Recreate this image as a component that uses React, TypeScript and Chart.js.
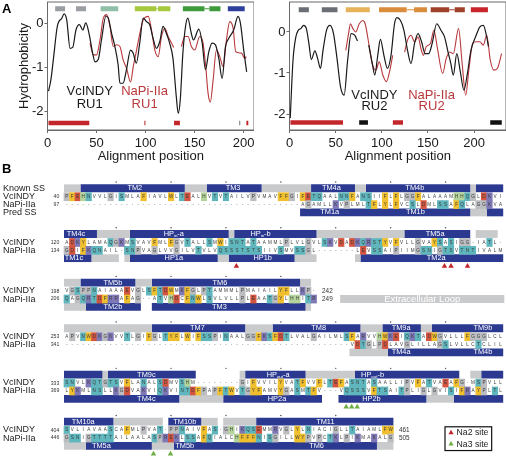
import React, { useEffect, useRef } from "react";
import { Chart, registerables } from "chart.js";
Chart.register(...registerables);

const FONT = '"Liberation Sans", Arial, sans-serif';
const BLACK = "#1a1a1a";
const RED = "#b8383c";
const BLUE = "#2b3990";
const GRAY = "#c9cacc";
const FRAME = "#6a6a6a";

type Pt = [number, number];
type Seg = [number, number, string];

// ---------- Panel A data (alignment position, hydrophobicity) ----------
const ru1Vc: Pt[] = [[1,-1.54],[3.4,-1.29],[6.1,-0.79],[10,-0.06],[14.6,0.13],[17,0.23],[19.6,0.09],[23,-0.56],[25.7,-0.54],[29,-0.14],[32.5,-0.02],[36,-0.14],[39,0.02],[42.6,-0.25],[46,-0.67],[48.4,-0.87],[51.8,-0.81],[55,-0.37],[59.6,0.18],[62,0.13],[65.3,-0.21],[68.7,-0.52],[72,-0.94],[73.8,-1.36],[77,-1.36],[80.5,-1.05],[84.6,-0.6],[87.3,-0.67],[90.6,-0.9],[94,-0.44],[97.5,0.13],[100.9,0.05],[104.2,-0.02],[107.6,-0.33],[111,-0.56],[114.4,-0.41],[117.8,-0.06],[121,-0.21],[124.5,-0.44],[127.9,-0.79],[131.3,-1.67],[133.3,-2.05],[135.3,-1.75],[138,-0.67],[140.7,-0.06],[143,0.13],[146.5,-0.21],[148.8,-0.37],[154.3,-0.12],[157.7,-0.44],[161,-1.05],[164.4,-0.64],[167.8,-0.44],[171.2,-0.48],[174.6,-0.79],[178,-1.25],[181.4,-0.52],[184.8,-0.33],[189.8,-0.14],[194.2,0.17],[196.6,0.02],[200,-0.6],[203,-1.1]];
const ru1Na: Pt[] = [[43.3,-0.44],[46.7,-0.71],[50,-0.71],[53.5,-0.37],[56.9,0.13],[60.3,0.21],[63.7,-0.06],[67,-0.52],[70.5,-0.48],[73.8,-0.52],[77.2,-0.83],[80.6,-1.02],[84.7,-1.33],[87.4,-0.98],[90.8,-0.6],[94.2,-0.21],[97.6,0.09],[102.7,0.17],[106,-0.14],[109.4,-0.6],[112.8,-0.75],[116.2,-0.29],[119.6,-0.1],[123,-0.29],[126.4,-0.44],[128.7,-0.54]];
const ru1NaB: Pt[] = [[136.5,-0.52],[139.9,-0.29],[143.3,-0.29],[146.7,-0.52],[150,-0.6],[155.2,-0.29],[158.6,-0.44],[161.3,-0.98],[163.7,-1.59],[166,-1.79],[168.8,-1.29],[172.2,-0.6],[175.6,-0.75],[179,-0.98],[182.4,-0.37],[185.8,0.05],[189.2,-0.1],[191.9,-0.64],[197.7,-0.67],[201,-0.79],[202.7,-0.75]];
const ru2Vc: Pt[] = [[0.8,-2.1],[3.8,-0.69],[6.9,-0.12],[9.5,0.04],[12.2,0.08],[15.3,0.16],[18.3,0.08],[21,-0.28],[23.7,-0.67],[27.5,-0.46],[30.5,-0.65],[33.6,-0.89],[36.3,-0.45],[40.1,0.04],[43.9,0.16],[47.7,-0.04],[51.5,-0.65],[55.3,-1.34],[59.2,-1.54],[63,-0.69],[66.8,-0.04],[70.6,-0.08],[73.7,-0.22]];
const ru2VcB: Pt[] = [[85.9,-0.32],[89.7,-0.77],[92.4,-1.05],[95.4,-0.61],[98.5,-0.18],[102.3,-0.57],[106.1,-0.89],[110,-0.57],[113.8,0.2],[116.4,0.35],[120.3,0.28],[124,0.04],[127.9,-0.45],[131.7,-0.77],[135.5,-0.28],[139.3,-0.04],[143.1,-0.24],[147,-0.53],[150.8,-0.53],[154.6,-0.28],[159.5,0.2],[164.1,0.04],[168,-0.12],[171.8,-0.49],[174.8,-0.77],[177.5,-1.05],[181.3,-0.53],[185.1,-0.97],[189,-1.42],[192.8,-1.01],[196.6,-0.45],[202.3,-0.08],[206.1,0.12],[210,0.16],[213.7,-0.12],[215.6,-0.36]];
const ru2Na: Pt[] = [[61,-0.45],[64,-0.04],[66,0.2],[68.7,0.08],[71.8,0],[75.6,0.2],[79.4,0.28],[82,0.2],[85.9,-0.28],[89.7,-0.77],[93.5,-0.93],[97.3,-0.73],[101.1,-1.05],[105,-1.21],[108.8,-0.93],[111.8,-0.57]];
const ru2NaB: Pt[] = [[124.8,-0.49],[127.9,-0.2],[131.7,-0.08],[135.5,-0.24],[139.3,-0.12],[142.4,-0.4],[145,-0.57],[148.1,-0.36],[152.7,-0.28],[156.5,0.04],[160.3,-0.4],[166,-1.01],[169.8,-0.65],[173.7,-0.49],[177.5,-0.53],[183.2,0.08],[187.1,-0.77],[190.9,-1.54],[194.7,-0.85],[198.5,-0.28],[202.3,-0.24],[206.1,-0.24],[210,-0.32],[213.7,-0.08],[217.6,-0.69],[221.4,-0.93],[225.2,-0.89],[229.8,-0.53]];

const ru1TopBars: Seg[] = [[7.8,17.9,"#9a9ea3"],[29.1,39.3,"#9a9ea3"],[54.1,72.1,"#8fbfa6"],[89,111,"#a6c83e"],[112.7,125.2,"#a6c83e"],[138,160,"#3f9a3c"],[165,176.3,"#3f9a3c"],[183.8,201,"#2e3f9c"]];
const ru1TopLinks: Seg[] = [[111,112.7,"#a6c83e"],[160,165,"#3f9a3c"]];
const ru1BottomBars: Seg[] = [[1,42.6,"#c4272b"],[98.5,100,"#d0696b"],[129,135,"#c4272b"],[195.7,196.4,"#333333"],[202.7,204.7,"#c4272b"]];
const ru2TopBars: Seg[] = [[10,21,"#6b6e75"],[35,52,"#6b6e75"],[61,87,"#e6b25a"],[97,127,"#da8d3d"],[135,149,"#da8d3d"],[153,173,"#a0412a"],[179,190,"#a0412a"],[196.5,215,"#c9252b"]];
const ru2TopLinks: Seg[] = [[127,135,"#da8d3d"],[173,179,"#a0412a"]];
const ru2BottomBars: Seg[] = [[1,58,"#c4272b"],[75.5,85,"#111111"],[112,123,"#c4272b"],[217.5,230,"#111111"]];

// ---------- Panel B data (alignment rows) ----------
const vcSeqs = [
  "PFEHNVVLGISMLAFIAVLWLTEALHVTVTAILVPVMAVFFGIFETQAALNNFANSIIFLFLGGFALAAAMHHQGLDKVI",
  "ADKYLAMAQGKMSVAVFMLFGVTALLSMWISNTATAAMMLPLVLGVLSKVDADKQRSTYVFVLLGVAYSASIGG-IATL-",
  "VGSPPNAIAAAEVGLSFTDWMKFGLPTAMMMLPMAIAILYFLLKP-",
  "APVNWDKGKVVTLGIFGLTYFLWIFSSPINAALGGFKSFDTLVALGAILMLSFARVVHWKEIQKTADWGVLLLFGGGLCL",
  "SNVLKQTGTSVFLANALSDMVSHM--------GIFVVILYVATFVVFLTEFASNTASAALLIPVFATVAEAFG-MSPVLL",
  "SVLIAVAASCAFMLPVAT-PPNAIVFAS-GHIKQSEMMRVGLYLNIACIGLLTAIAMLFW",
];
const naSeqs = [
  "-------------------------------------------AGAMLLKVPLMLTFLYLFVCSLDMLSSAFQLAGGKVA",
  "GDIFKQNAIL-SNPVAGLVVGILVTVLVQSSSTSTSIIVSMVSSGL-------LEVSSAIPIIMGSNIGTSVTNTIVALM",
  "QAGQRTDFRRAFAG--ATVHDCFNWLSVLVLLPLEAATGYLHHITR",
  "----------------------------------------------------VDTGLPDLAVGLILLAGSLVLLCTCLIL",
  "LYKMLNSLLKGDVAKVIQKVINTDFPAPFTWVTGYFAMVYGASMTFV---VQSSSVFTSAITPLIGLGVISIFRAYPLTL",
  "GSNIGTTTTAILAALASPREKLSSAFQIALCHFFFNISGILLWYPVPCTKLPIKMAKALG",
];
const vcStart = ["40", "120", "198", "253", "333", "404"];
const naStart = ["97", "134", "206", "341", "369", "446"];
const vcEnd = ["", "", "242", "", "", "461"];
const naEnd = ["", "", "249", "", "", "505"];
const blockRows = [2.27, 7.95, 14, 19.66, 25.42, 31.27];
const tickCols = [
  [9.5,19.5,29.5,39.5,49.5,59.5,69.5],
  [9.5,19.5,29.5,39.5,49.5,59.5,69.5],
  [9.5,19.5,29.5,39.5],
  [9.5,19.5,29.5,39.5,49.5,59.5,69.5],
  [9.5,19.5,29.5,39.5,49.5,59.5,69.5],
  [9.5,19.5,29.5,39.5,49.5],
];
const B = BLUE, G = GRAY;
const knownSS: Seg[][] = [
  [[0,3,G],[3,22,B],[22,26,G],[26,36,B],[36,45,G],[45,53,B],[53,55,G],[55,74,B],[74,75,G],[75,80,B]],
  [[0,6,B],[6,12,G],[12,30,B],[30,31,G],[31,46,B],[46,62,G],[62,74,B],[75,79,G]],
  [[0,3,G],[3,13,B],[13,16,G],[16,43,B],[43,45,G]],
  [[0,16,G],[16,33,B],[33,38,G],[38,54,B],[54,58,G],[58,65,B],[65,67,G],[67,80,B]],
  [[0,7,B],[7,8,G],[8,24,B],[32,33,G],[33,44,B],[44,53,G],[53,72,B],[74,76,G],[76,80,B]],
  [[0,9,B],[9,18,G],[19,25,B],[25,28,G],[29,35,G],[35,60,B]],
];
const predSS: Seg[][] = [
  [[43,74,B],[74,77,G],[77,80,B]],
  [[0,5,B],[5,10,G],[11,12,G],[12,28,B],[28,30,G],[30,42,B],[42,46,G],[53,54,G],[54,80,B]],
  [[0,4,G],[4,14,B],[16,44,B],[44,45,G]],
  [[52,59,G],[59,80,B]],
  [[0,21,B],[21,29,G],[29,47,B],[50,66,B],[66,71,G],[71,80,B]],
  [[0,4,G],[4,16,B],[16,20,G],[20,57,B],[57,60,G]],
];
type Lab = [number, string, string?];
const knownLabels: Lab[][] = [
  [[12.9,"TM2"],[30.8,"TM3"],[48.7,"TM4a"],[63.9,"TM4b"]],
  [[2.2,"TM4c"],[20,"HP","in-a"],[35.8,"HP","in-b"],[67.6,"TM5a"]],
  [[8.9,"TM5b"],[28.4,"TM6"]],
  [[24.3,"TM7"],[46.4,"TM8"],[61.4,"TM9a"],[76.3,"TM9b"]],
  [[15,"TM9c"],[39,"HP","out-a"],[56.2,"HP","out-b"]],
  [[3.5,"TM10a"],[22,"TM10b"],[47.6,"TM11"]],
];
const predLabels: Lab[][] = [
  [[48.4,"TM1a"],[64,"TM1b"]],
  [[1.8,"TM1c"],[20,"HP1a"],[36.2,"HP1b"],[67.8,"TM2a"]],
  [[8.9,"TM2b"],[28.3,"TM3"]],
  [[61.4,"TM4a"],[76.3,"TM4b"]],
  [[15,"TM4c"],[38.8,"HP2a"],[56,"HP2b"]],
  [[6.8,"TM5a"],[22,"TM5b"],[46,"TM6"]],
];
const na2Sites: Pt[] = [[31.4,1],[69.3,1],[70.5,1],[73.5,1]];
const na3Sites: Pt[] = [[51.4,4],[52.4,4],[53.4,4],[16.3,5],[19.4,5]];
const siteRowOffset = 4.0;
const loopBar: [number, number] = [50.3, 80.2];

function residueColor(c: string): string | null {
  if ("FYW".includes(c)) return "#f0bf2e";
  if ("DE".includes(c)) return "#d4553f";
  if ("KR".includes(c)) return "#7f78b6";
  if ("NQST".includes(c)) return "#5fb6bd";
  if (c === "H") return "#b4d49c";
  if ("GP".includes(c)) return "#bcbdc0";
  return null;
}

function segDatasets(segs: Seg[], y: number, width: number) {
  return segs.map(([a, b, color]) => ({
    type: "line" as const,
    data: [{ x: a, y }, { x: b, y }],
    borderColor: color,
    borderWidth: width,
    borderCapStyle: "butt" as const,
    pointRadius: 0,
    tension: 0,
  }));
}

function curve(points: Pt[], color: string, width: number) {
  return {
    type: "line" as const,
    data: points.map(([x, y]) => ({ x, y })),
    borderColor: color,
    borderWidth: width,
    pointRadius: 0,
    cubicInterpolationMode: "monotone" as const,
  };
}

type Txt = [string, number, number, string];

function hydroChart(
  canvas: HTMLCanvasElement,
  cfg: {
    xMax: number; yMin: number; yMax: number; left: number; hasTitle: boolean; ticks: number[];
    curves: any[]; top: Seg[]; links: Seg[]; bottom: Seg[]; topY: number; botY: number; texts: Txt[];
  },
) {
  const frame = {
    id: "frame",
    afterDatasetsDraw(c: any) {
      const { ctx, chartArea: a, scales } = c;
      ctx.save();
      ctx.strokeStyle = FRAME;
      ctx.lineWidth = 1;
      ctx.strokeRect(a.left, a.top, a.right - a.left, a.bottom - a.top);
      ctx.font = `13px ${FONT}`;
      ctx.textAlign = "center";
      ctx.textBaseline = "middle";
      for (const [t, x, y, col] of cfg.texts) {
        ctx.fillStyle = col;
        ctx.fillText(t, scales.x.getPixelForValue(x), scales.y.getPixelForValue(y));
      }
      ctx.restore();
    },
  };
  return new Chart(canvas, {
    type: "line",
    data: {
      datasets: [
        ...cfg.curves,
        ...segDatasets(cfg.top, cfg.topY, 5),
        ...segDatasets(cfg.links, cfg.topY, 1),
        ...segDatasets(cfg.bottom, cfg.botY, 4.5),
      ],
    },
    plugins: [frame],
    options: {
      animation: false,
      responsive: false,
      layout: { padding: { top: 2, right: 0 }, autoPadding: false },
      plugins: { legend: { display: false }, tooltip: { enabled: false } },
      scales: {
        x: {
          type: "linear", min: 0, max: cfg.xMax,
          afterFit: (s: any) => { s.height = 35; s.paddingLeft = 0; s.paddingRight = 0; },
          afterBuildTicks: (s: any) => { s.ticks = [0, 50, 100, 150, 200].map((value) => ({ value })); },
          border: { color: FRAME },
          grid: { drawOnChartArea: false, tickLength: 3, color: FRAME },
          ticks: { color: BLACK, font: { family: FONT, size: 13 }, padding: 3, maxRotation: 0 },
          title: { display: true, text: "Alignment position", color: BLACK, font: { family: FONT, size: 13 }, padding: { top: 0, bottom: 1 } },
        },
        y: {
          type: "linear", min: cfg.yMin, max: cfg.yMax,
          afterFit: (s: any) => { s.width = cfg.left; s.paddingTop = 0; s.paddingBottom = 0; },
          afterBuildTicks: (s: any) => { s.ticks = cfg.ticks.map((value) => ({ value })); },
          border: { color: FRAME },
          grid: { drawOnChartArea: false, tickLength: 3, color: FRAME },
          ticks: { color: BLACK, font: { family: FONT, size: 13 }, padding: 1 },
          title: { display: cfg.hasTitle, text: "Hydrophobicity", color: BLACK, font: { family: FONT, size: 13 }, padding: { top: 17, bottom: 0 } },
        },
      },
    } as any,
  });
}

function alignChart(canvas: HTMLCanvasElement) {
  const cells: any[] = [];
  const colors: string[] = [];
  const addRow = (seq: string, row: number) => {
    [...seq].forEach((ch, i) => {
      const col = residueColor(ch);
      if (col) {
        cells.push({ x: i + 0.5, y: [row - 0.5, row + 0.5] });
        colors.push(col);
      }
    });
  };
  const lines: any[] = [];
  const dots: any[] = [];
  blockRows.forEach((r, i) => {
    addRow(vcSeqs[i], r + 1.05);
    addRow(naSeqs[i], r + 2.03);
    lines.push(...segDatasets(knownSS[i], r, 7.8));
    lines.push(...segDatasets(predSS[i], r + 3, 7.8));
    tickCols[i].forEach((x) => dots.push({ x, y: r - 0.78 }));
  });
  lines.push(...segDatasets([[loopBar[0], loopBar[1], GRAY]], blockRows[2] + 2.03, 8));

  const siteData = (s: Pt[]) => s.map(([x, b]) => ({ x, y: blockRows[b] + siteRowOffset }));

  const textPlugin = {
    id: "alignText",
    afterDatasetsDraw(c: any) {
      const { ctx, scales } = c;
      const X = (v: number) => scales.x.getPixelForValue(v);
      const Y = (v: number) => scales.y.getPixelForValue(v);
      ctx.save();
      ctx.textBaseline = "middle";
      // residues
      const drawSeq = (seq: string, row: number) => {
        ctx.textAlign = "center";
        ctx.font = `4.6px ${FONT}`;
        [...seq].forEach((ch, i) => {
          ctx.fillStyle = ch === "-" ? "#777777" : "#3a3a3a";
          ctx.fillText(ch, X(i + 0.5), Y(row));
        });
      };
      // helix labels
      const drawLab = (labs: Lab[], row: number) => {
        ctx.fillStyle = "#ffffff";
        for (const [x, t, sub] of labs) {
          ctx.textAlign = "left";
          ctx.font = `7.4px ${FONT}`;
          if (sub) {
            const [s, tail] = sub.split("-");
            const w1 = ctx.measureText(t).width;
            const w3 = ctx.measureText("-" + tail).width;
            ctx.font = `4.4px ${FONT}`;
            const w2 = ctx.measureText(s).width;
            const x0 = X(x) - (w1 + w2 + w3) / 2;
            ctx.fillText(s, x0 + w1, Y(row) + 2);
            ctx.font = `7.4px ${FONT}`;
            ctx.fillText(t, x0, Y(row));
            ctx.fillText("-" + tail, x0 + w1 + w2, Y(row));
          } else {
            ctx.textAlign = "center";
            ctx.fillText(t, X(x), Y(row));
          }
        }
      };
      blockRows.forEach((r, i) => {
        drawSeq(vcSeqs[i], r + 1.05);
        drawSeq(naSeqs[i], r + 2.03);
        drawLab(knownLabels[i], r);
        drawLab(predLabels[i], r + 3);
        ctx.fillStyle = "#222222";
        ctx.textAlign = "left";
        ctx.font = `9px ${FONT}`;
        ctx.fillText("VcINDY", X(-11.1), Y(r + 1.02));
        ctx.fillText("NaPi-IIa", X(-11.1), Y(r + 2.03));
        if (i === 0) {
          ctx.fillText("Known SS", X(-11.1), Y(r));
          ctx.fillText("Pred SS", X(-11.1), Y(r + 3));
        }
        ctx.textAlign = "right";
        ctx.font = `5.2px ${FONT}`;
        ctx.fillStyle = "#333333";
        ctx.fillText(vcStart[i], X(-0.85), Y(r + 1.05));
        ctx.fillText(naStart[i], X(-0.85), Y(r + 2.03));
        ctx.textAlign = "left";
        ctx.font = `6.4px ${FONT}`;
        const endX = vcSeqs[i].length + 1;
        if (vcEnd[i]) ctx.fillText(vcEnd[i], X(endX), Y(r + 1.05));
        if (naEnd[i]) ctx.fillText(naEnd[i], X(endX), Y(r + 2.03));
      });
      // extracellular loop
      ctx.fillStyle = "#ffffff";
      ctx.textAlign = "center";
      ctx.font = `9.5px ${FONT}`;
      ctx.fillText("Extracellular Loop", X((loopBar[0] + loopBar[1]) / 2), Y(blockRows[2] + 2.03));
      // legend box
      const bx = X(69.4), by = Y(31.9), bw = X(77.9) - bx, bh = Y(34.85) - by;
      ctx.strokeStyle = "#111111";
      ctx.lineWidth = 1.2;
      ctx.strokeRect(bx, by, bw, bh);
      ctx.fillStyle = "#222222";
      ctx.textAlign = "left";
      ctx.font = `8.7px ${FONT}`;
      ctx.fillText("Na2 site", X(71.5), Y(32.65));
      ctx.fillText("Na3 site", X(71.5), Y(34.05));
      ctx.restore();
    },
  };

  return new Chart(canvas, {
    type: "bar",
    data: {
      datasets: [
        {
          type: "bar",
          data: cells,
          backgroundColor: colors,
          barThickness: 5.5,
          grouped: false,
        } as any,
        ...lines,
        {
          type: "line",
          data: dots,
          showLine: false,
          pointStyle: "circle",
          pointRadius: 0.7,
          pointBackgroundColor: "#444444",
          pointBorderWidth: 0,
        } as any,
        {
          type: "line",
          data: siteData(na2Sites),
          showLine: false,
          pointStyle: "triangle",
          pointRadius: 3.2,
          pointBackgroundColor: "#c0272d",
          pointBorderWidth: 0,
        } as any,
        {
          type: "line",
          data: siteData(na3Sites),
          showLine: false,
          pointStyle: "triangle",
          pointRadius: 3.2,
          pointBackgroundColor: "#6fae45",
          pointBorderWidth: 0,
        } as any,
        {
          type: "line",
          data: [{ x: 70.5, y: 32.65 }],
          showLine: false,
          pointStyle: "triangle",
          pointRadius: 3,
          pointBackgroundColor: "#c0272d",
          pointBorderWidth: 0,
        } as any,
        {
          type: "line",
          data: [{ x: 70.5, y: 34.05 }],
          showLine: false,
          pointStyle: "triangle",
          pointRadius: 3,
          pointBackgroundColor: "#6fae45",
          pointBorderWidth: 0,
        } as any,
      ],
    },
    plugins: [textPlugin],
    options: {
      animation: false,
      responsive: false,
      clip: false,
      layout: { padding: 0, autoPadding: false },
      plugins: { legend: { display: false }, tooltip: { enabled: false } },
      scales: {
        x: { type: "linear", display: false, offset: false, min: -64 / 5.49, max: (506 - 64) / 5.49 },
        y: { type: "linear", display: false, reverse: true, min: 0, max: 286 / 8.05 },
      },
    } as any,
  });
}

export default function App() {
  const refA1 = useRef<HTMLCanvasElement>(null);
  const refA2 = useRef<HTMLCanvasElement>(null);
  const refB = useRef<HTMLCanvasElement>(null);
  useEffect(() => {
    document.body.style.margin = "0";
    const a = hydroChart(refA1.current!, {
      xMax: 210.5, yMin: -2.43, yMax: 0.5, left: 47.5, hasTitle: true, ticks: [-2, -1, 0],
      curves: [curve(ru1Vc, BLACK, 1.2), curve(ru1Na, RED, 1.1), curve(ru1NaB, RED, 1.1)],
      top: ru1TopBars, links: ru1TopLinks, bottom: ru1BottomBars, topY: 0.345, botY: -2.27,
      texts: [["VcINDY", 43, -1.55, BLACK], ["RU1", 43, -1.85, BLACK], ["NaPi-IIa", 99, -1.55, RED], ["RU1", 99, -1.85, RED]],
    });
    const b = hydroChart(refA2.current!, {
      xMax: 234.6, yMin: -2.39, yMax: 0.73, left: 36.5, hasTitle: false, ticks: [-2, -1, 0],
      curves: [curve(ru2Vc, BLACK, 1.2), curve(ru2VcB, BLACK, 1.2), curve(ru2Na, RED, 1.1), curve(ru2NaB, RED, 1.1)],
      top: ru2TopBars, links: ru2TopLinks, bottom: ru2BottomBars, topY: 0.54, botY: -2.21,
      texts: [["VcINDY", 92, -1.55, BLACK], ["RU2", 92, -1.82, BLACK], ["NaPi-IIa", 154, -1.55, RED], ["RU2", 154, -1.82, RED]],
    });
    const c = alignChart(refB.current!);
    return () => { a.destroy(); b.destroy(); c.destroy(); };
  }, []);
  const abs = (left: number, top: number): React.CSSProperties => ({ position: "absolute", left, top, display: "block" });
  return (
    <div style={{ position: "relative", width: 506, height: 456, background: "#fff", overflow: "hidden" }}>
      <canvas ref={refA1} width={254} height={165} style={abs(0, 0)} />
      <canvas ref={refA2} width={253} height={165} style={abs(253, 0)} />
      <canvas ref={refB} width={506} height={286} style={abs(0, 170)} />
      <div style={{ position: "absolute", left: 2, top: 1, font: `bold 13px ${FONT}` }}>A</div>
      <div style={{ position: "absolute", left: 2, top: 161, font: `bold 13px ${FONT}` }}>B</div>
    </div>
  );
}
